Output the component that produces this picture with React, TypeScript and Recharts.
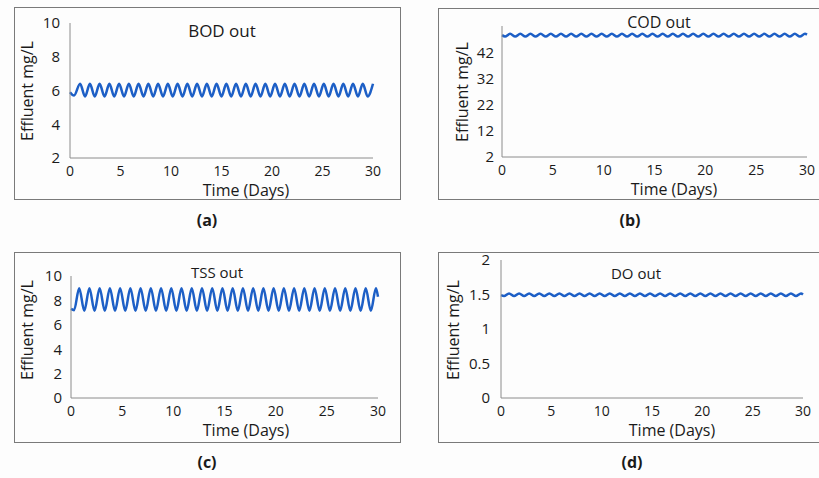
import React from "react";
import { LineChart, Line, XAxis, YAxis } from "recharts";

const xTicks = [0, 5, 10, 15, 20, 25, 30];
const bodTicks = [2, 4, 6, 8, 10];
const codTicks = [2, 12, 22, 32, 42];
const tssTicks = [0, 2, 4, 6, 8, 10];
const doTicks = [0, 0.5, 1, 1.5, 2];

const bodDays = [
  0, 0.4, 1.0, 1.49, 1.97, 2.45, 2.93, 3.42, 3.9, 4.38, 4.86, 5.35, 5.83, 6.31, 6.79,
  7.28, 7.76, 8.24, 8.72, 9.21, 9.69, 10.17, 10.65, 11.14, 11.62, 12.1, 12.58, 13.07,
  13.55, 14.03, 14.51, 15.0, 15.48, 15.96, 16.44, 16.93, 17.41, 17.89, 18.37, 18.86,
  19.34, 19.82, 20.3, 20.79, 21.27, 21.75, 22.23, 22.72, 23.2, 23.68, 24.16, 24.65,
  25.13, 25.61, 26.09, 26.58, 27.06, 27.54, 28.02, 28.51, 28.99, 29.47, 30,
];
const bodOut = [
  5.9, 5.7, 6.4, 5.65, 6.4, 5.65, 6.4, 5.65, 6.4, 5.65, 6.4, 5.65, 6.4, 5.65, 6.4,
  5.65, 6.4, 5.65, 6.4, 5.65, 6.4, 5.65, 6.4, 5.65, 6.4, 5.65, 6.4, 5.65,
  6.4, 5.65, 6.4, 5.65, 6.4, 5.65, 6.4, 5.65, 6.4, 5.65, 6.4, 5.65,
  6.4, 5.65, 6.4, 5.65, 6.4, 5.65, 6.4, 5.65, 6.4, 5.65, 6.4, 5.65,
  6.4, 5.65, 6.4, 5.65, 6.4, 5.65, 6.4, 5.65, 6.4, 5.65, 6.4,
];

const days = [
  0, 0.3, 0.8, 1.3, 1.8, 2.3, 2.8, 3.3, 3.8, 4.3, 4.8, 5.3, 5.8, 6.3, 6.8, 7.3, 7.8,
  8.3, 8.8, 9.3, 9.8, 10.3, 10.8, 11.3, 11.8, 12.3, 12.8, 13.3, 13.8, 14.3, 14.8,
  15.3, 15.8, 16.3, 16.8, 17.3, 17.8, 18.3, 18.8, 19.3, 19.8, 20.3, 20.8, 21.3, 21.8,
  22.3, 22.8, 23.3, 23.8, 24.3, 24.8, 25.3, 25.8, 26.3, 26.8, 27.3, 27.8, 28.3, 28.8,
  29.3, 29.8, 30,
];
const tssOut = [
  7.3, 7.2, 9.0, 7.15, 9.0, 7.15, 9.0, 7.15, 9.0, 7.15, 9.0, 7.15, 9.0, 7.15, 9.0, 7.15, 9.0,
  7.15, 9.0, 7.15, 9.0, 7.15, 9.0, 7.15, 9.0, 7.15, 9.0, 7.15, 9.0, 7.15, 9.0,
  7.15, 9.0, 7.15, 9.0, 7.15, 9.0, 7.15, 9.0, 7.15, 9.0, 7.15, 9.0, 7.15, 9.0,
  7.15, 9.0, 7.15, 9.0, 7.15, 9.0, 7.15, 9.0, 7.15, 9.0, 7.15, 9.0, 7.15, 9.0,
  7.15, 9.0, 8.3,
];
const codOut = [
  48.5, 48.0, 49.0, 48.0, 49.0, 48.0, 49.0, 48.0, 49.0, 48.0, 49.0, 48.0, 49.0, 48.0, 49.0, 48.0, 49.0,
  48.0, 49.0, 48.0, 49.0, 48.0, 49.0, 48.0, 49.0, 48.0, 49.0, 48.0, 49.0, 48.0, 49.0,
  48.0, 49.0, 48.0, 49.0, 48.0, 49.0, 48.0, 49.0, 48.0, 49.0, 48.0, 49.0, 48.0, 49.0,
  48.0, 49.0, 48.0, 49.0, 48.0, 49.0, 48.0, 49.0, 48.0, 49.0, 48.0, 49.0, 48.0, 49.0,
  48.0, 49.0, 48.7,
];
const doOut = [
  1.49, 1.478, 1.515, 1.478, 1.515, 1.478, 1.515, 1.478, 1.515, 1.478, 1.515, 1.478, 1.515, 1.478, 1.515, 1.478, 1.515,
  1.478, 1.515, 1.478, 1.515, 1.478, 1.515, 1.478, 1.515, 1.478, 1.515, 1.478, 1.515, 1.478, 1.515,
  1.478, 1.515, 1.478, 1.515, 1.478, 1.515, 1.478, 1.515, 1.478, 1.515, 1.478, 1.515, 1.478, 1.515,
  1.478, 1.515, 1.478, 1.515, 1.478, 1.515, 1.478, 1.515, 1.478, 1.515, 1.478, 1.515, 1.478, 1.515,
  1.478, 1.515, 1.50,
];

const FONT = "'Open Sans', 'Noto Sans', sans-serif";
const LINE = "#1d5fc6";
const AXIS = "#8c8c8c";
const PAD = 16;

type Rect = { x: number; y: number; w: number; h: number };
type Plot = { left: number; right: number; top: number; bottom: number };

function Txt(props: {
  x: number;
  y: number;
  size: number;
  bold?: boolean;
  rotate?: boolean;
  children: React.ReactNode;
}) {
  return (
    <div
      style={{
        position: "absolute",
        left: props.x,
        top: props.y,
        transform: `translate(-50%, -50%)${props.rotate ? " rotate(-90deg)" : ""}`,
        fontFamily: FONT,
        fontSize: props.size,
        fontWeight: props.bold ? 700 : 400,
        whiteSpace: "nowrap",
        lineHeight: 1,
        color: "#1a1a1a",
      }}
    >
      {props.children}
    </div>
  );
}

function Panel(props: {
  box: Rect;
  plot: Plot;
  xs: number[];
  ys: number[];
  domain: [number, number];
  yTicks: number[];
  yGap: number;
}) {
  const { box, plot } = props;
  const data = props.xs.map((t, i) => ({ t, v: props.ys[i] }));
  const top = box.y - PAD;
  const h = box.h + PAD;
  return (
    <>
      <div
        style={{
          position: "absolute",
          left: box.x,
          top: box.y,
          width: box.w,
          height: box.h,
          border: "1.5px solid #7a7a7a",
          boxSizing: "border-box",
        }}
      />
      <div style={{ position: "absolute", left: box.x, top }}>
        <LineChart
          width={box.w}
          height={h}
          data={data}
          margin={{ top: plot.top - top, right: box.x + box.w - plot.right, bottom: 0, left: 0 }}
        >
          <XAxis
            dataKey="t"
            type="number"
            domain={[0, 30]}
            ticks={xTicks}
            interval={0}
            height={box.y + box.h - plot.bottom}
            axisLine={{ stroke: AXIS, strokeWidth: 1 }}
            tickLine={false}
            tickSize={6}
            tickMargin={2}
            tick={{ fill: "#1a1a1a", fontSize: 14, fontFamily: FONT }}
          />
          <YAxis
            type="number"
            domain={props.domain}
            ticks={props.yTicks}
            interval={0}
            allowDataOverflow
            width={plot.left - box.x}
            axisLine={{ stroke: AXIS, strokeWidth: 1 }}
            tickLine={false}
            tickSize={6}
            tickMargin={props.yGap}
            tick={{ fill: "#1a1a1a", fontSize: 15, fontFamily: FONT }}
          />
          <Line
            type="monotone"
            dataKey="v"
            stroke={LINE}
            strokeWidth={2.5}
            dot={false}
            isAnimationActive={false}
          />
        </LineChart>
      </div>
    </>
  );
}

export default function App() {
  return (
    <div
      style={{
        position: "absolute",
        left: 0,
        top: 0,
        width: 819,
        height: 478,
        overflow: "hidden",
        background: "#fdfdfd",
      }}
    >
      <Panel
        box={{ x: 14, y: 7, w: 387, h: 193 }}
        plot={{ left: 70, right: 373, top: 23, bottom: 158 }}
        xs={bodDays}
        ys={bodOut}
        domain={[2, 10]}
        yTicks={bodTicks}
        yGap={4}
      />
      <Panel
        box={{ x: 438, y: 8, w: 395, h: 192 }}
        plot={{ left: 502, right: 807, top: 26, bottom: 157 }}
        xs={days}
        ys={codOut}
        domain={[2, 52]}
        yTicks={codTicks}
        yGap={2}
      />
      <Panel
        box={{ x: 14, y: 252, w: 387, h: 191 }}
        plot={{ left: 71, right: 378, top: 276, bottom: 398 }}
        xs={days}
        ys={tssOut}
        domain={[0, 10]}
        yTicks={tssTicks}
        yGap={3}
      />
      <Panel
        box={{ x: 438, y: 252, w: 395, h: 191 }}
        plot={{ left: 501, right: 803, top: 260, bottom: 398 }}
        xs={days}
        ys={doOut}
        domain={[0, 2]}
        yTicks={doTicks}
        yGap={5}
      />

      <Txt x={222} y={30} size={17}>BOD out</Txt>
      <Txt x={659} y={22} size={16}>COD out</Txt>
      <Txt x={217} y={272} size={15}>TSS out</Txt>
      <Txt x={636} y={273} size={15}>DO out</Txt>

      <Txt x={246} y={190} size={16}>Time (Days)</Txt>
      <Txt x={674} y={189} size={16}>Time (Days)</Txt>
      <Txt x={246} y={430} size={16}>Time (Days)</Txt>
      <Txt x={672} y={430} size={16}>Time (Days)</Txt>

      <Txt x={27} y={91} size={16} rotate>Effluent mg/L</Txt>
      <Txt x={462} y={92} size={16} rotate>Effluent mg/L</Txt>
      <Txt x={27} y={330} size={16} rotate>Effluent mg/L</Txt>
      <Txt x={453} y={330} size={16} rotate>Effluent mg/L</Txt>

      <Txt x={207} y={220} size={16} bold>(a)</Txt>
      <Txt x={630} y={220} size={16} bold>(b)</Txt>
      <Txt x={207} y={462} size={16} bold>(c)</Txt>
      <Txt x={632} y={462} size={16} bold>(d)</Txt>
    </div>
  );
}
